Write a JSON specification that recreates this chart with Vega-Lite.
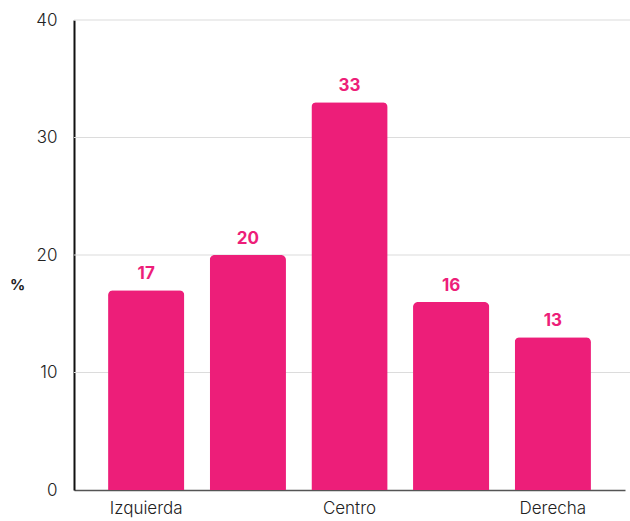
{
  "$schema": "https://vega.github.io/schema/vega-lite/v6.json",
  "width": 556,
  "height": 470,
  "autosize": "none",
  "padding": {"left": 74, "top": 20, "right": 0, "bottom": 31},
  "background": "white",
  "config": {"view": {"stroke": null}, "font": "Inter"},
  "datasets": {
    "bars": [
      {"cat": "Izquierda", "pct": 17},
      {"cat": "Centro izquierda", "pct": 20},
      {"cat": "Centro", "pct": 33},
      {"cat": "Centro derecha", "pct": 16},
      {"cat": "Derecha", "pct": 13}
    ],
    "grid": [{"g": 10}, {"g": 20}, {"g": 30}, {"g": 40}]
  },
  "layer": [
    {"data": {"name": "grid"},
     "mark": {"type": "rule", "color": "#dcdcdc", "strokeWidth": 1.2},
     "encoding": {"y": {"field": "g", "type": "quantitative", "scale": {"domain": [0, 40]}}}},
    {"data": {"name": "bars"},
     "encoding": {
      "x": {"field": "cat", "type": "nominal", "sort": null,
        "scale": {"range": [0, 551], "paddingInner": 0.25, "paddingOuter": 0.335},
        "axis": {"title": null, "values": ["Izquierda", "Centro", "Derecha"], "labelAngle": 0, "ticks": false, "labelPadding": 10, "labelFontSize": 17, "labelColor": "#222", "domainColor": "#555", "domainWidth": 1.5, "labelFont": "Inter", "labelFontWeight": 300}},
      "y": {"field": "pct", "type": "quantitative",
        "scale": {"domain": [0, 40]},
        "axis": {"values": [0, 10, 20, 30, 40], "grid": false, "title": "%", "titleAngle": 0, "titleFontSize": 15, "titleFontWeight": "bold", "titleColor": "#222", "titleX": -57, "titleY": 272, "titleAlign": "center", "ticks": false, "labelPadding": 17, "labelFontSize": 17, "labelColor": "#222", "domainColor": "#111", "domainWidth": 2, "labelFont": "Inter", "labelFontWeight": 300}}
     },
     "layer": [
      {"mark": {"type": "bar", "color": "#ED1E79", "cornerRadiusTopLeft": 5, "cornerRadiusTopRight": 5}},
      {"mark": {"type": "text", "color": "#ED1E79", "fontWeight": "bold", "fontSize": 17, "dy": -16, "font": "Inter"},
       "encoding": {"text": {"field": "pct", "type": "quantitative"}}}
     ]
    }
  ]
}
